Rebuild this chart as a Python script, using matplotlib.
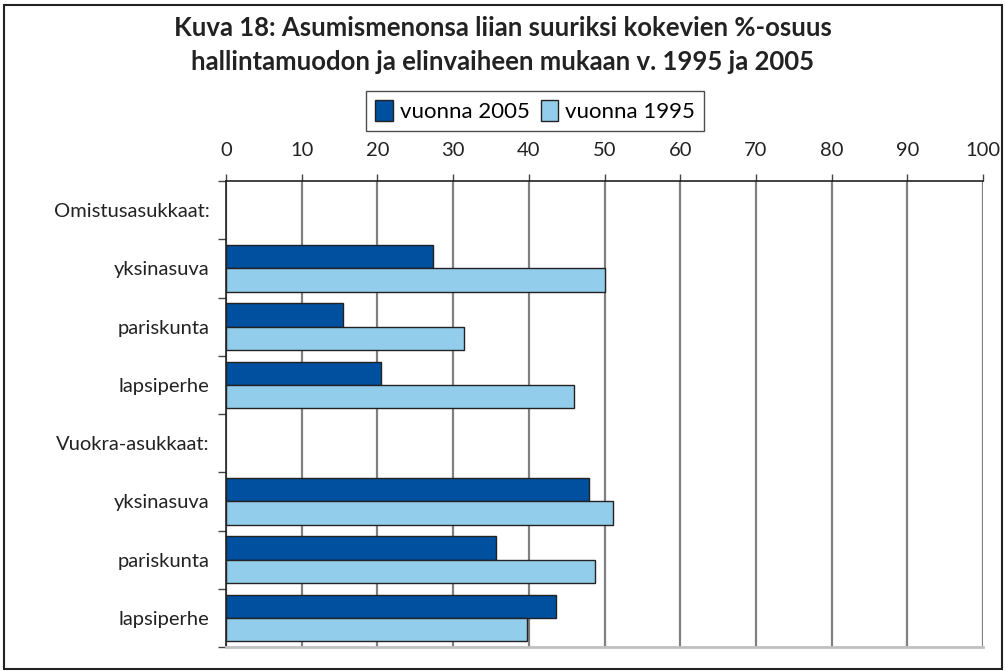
import matplotlib
matplotlib.use("Agg")
import matplotlib.pyplot as plt
from matplotlib.patches import Rectangle, Patch
import numpy as np

plt.rcParams['font.family'] = ['Lato', 'DejaVu Sans']

categories = ["Omistusasukkaat:", "yksinasuva", "pariskunta", "lapsiperhe",
              "Vuokra-asukkaat:", "yksinasuva", "pariskunta", "lapsiperhe"]
v2005 = [np.nan, 27.3, 15.4, 20.5, np.nan, 48.0, 35.7, 43.6]
v1995 = [np.nan, 50.0, 31.5, 46.0, np.nan, 51.1, 48.7, 39.7]
xticks = [0, 10, 20, 30, 40, 50, 60, 70, 80, 90, 100]
title = "Kuva 18: Asumismenonsa liian suuriksi kokevien %-osuus\nhallintamuodon ja elinvaiheen mukaan v. 1995 ja 2005"
labels = ["vuonna 2005", "vuonna 1995"]

c2005 = "#0050a0"
c1995 = "#92cdeb"
W, H = 1005, 671
fig = plt.figure(figsize=(W / 100, H / 100), dpi=100)

# axes: left 226, right 983, top 181, bottom 647 (pixels)
ax = fig.add_axes([226 / W, 1 - 647 / H, (983 - 226) / W, (647 - 181) / H])

n = len(categories)
y = np.arange(n)
h = 0.4
ax.barh(y - h / 2, v2005, height=h, color=c2005, edgecolor="#222222", linewidth=1.0, zorder=3)
ax.barh(y + h / 2, v1995, height=h, color=c1995, edgecolor="#222222", linewidth=1.0, zorder=3)

ax.set_ylim(n - 0.5, -0.5)
ax.set_xlim(0, 100)
ax.xaxis.tick_top()
ax.set_xticks(xticks)
ax.set_xticklabels([str(t) for t in xticks], fontsize=14.5, color="#222222")
ax.tick_params(axis="x", direction="out", length=5, width=1, color="#444444", pad=11)
ax.set_yticks(np.arange(-0.5, n, 1.0))
ax.set_yticklabels([])
ax.set_yticks(y, minor=True)
ax.set_yticklabels(categories, minor=True, fontsize=14.5, color="#222222")
ax.tick_params(axis="y", which="major", direction="out", length=6, width=1, color="#444444")
ax.tick_params(axis="y", which="minor", length=0, pad=12)

ax.grid(axis="x", color="#808080", linewidth=1.6, zorder=0)
ax.set_axisbelow(True)
ax.spines["right"].set_visible(False)
ax.spines["top"].set_color("#222222")
ax.spines["top"].set_linewidth(1.2)
ax.spines["left"].set_color("#222222")
ax.spines["left"].set_linewidth(1.2)
ax.spines["bottom"].set_color("#c0c0c0")
ax.spines["bottom"].set_linewidth(2)

fig.text(0.5, 1 - 45 / H, title, ha="center", va="center", fontsize=18.5,
         fontweight="bold", color="#222222", linespacing=1.5)

handles = [Patch(facecolor=c2005, edgecolor="#222222"), Patch(facecolor=c1995, edgecolor="#222222")]
leg = fig.legend(handles, labels, loc="center", bbox_to_anchor=(535 / W, 1 - 111 / H),
                 ncol=2, fontsize=16, frameon=True, fancybox=False, edgecolor="#222222",
                 handlelength=0.8, handleheight=1.1, handletextpad=0.3, columnspacing=0.5,
                 borderpad=0.4)
leg.get_frame().set_linewidth(1.0)

fig.patches.append(Rectangle((4 / W, 1 - 669 / H), (1002 - 4) / W, (669 - 5) / H,
                             transform=fig.transFigure, fill=False,
                             edgecolor="#222222", linewidth=1.5))

fig.savefig("out.png", dpi=100)
